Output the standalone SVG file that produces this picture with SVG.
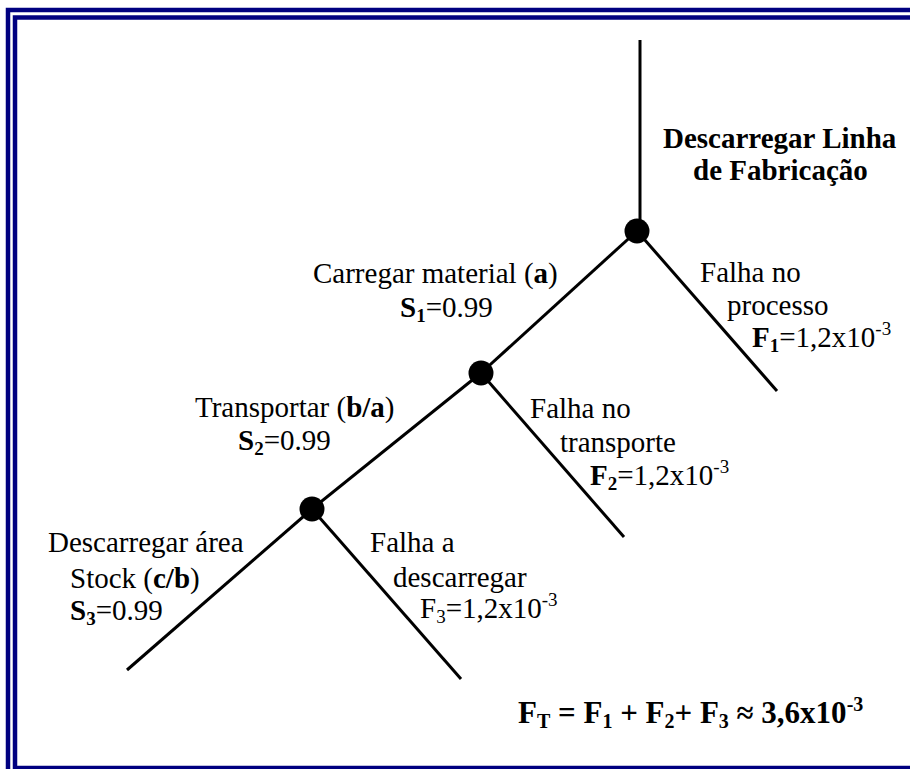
<svg xmlns="http://www.w3.org/2000/svg" width="910" height="769" viewBox="0 0 910 769">
<style>
.frame{fill:none;stroke:#000080;stroke-width:4.5}
.edge{stroke:#000;stroke-width:3;fill:none;stroke-linecap:butt}
.node{fill:#000}
text{font-family:"Liberation Serif","Times New Roman",serif;fill:#000;font-size:29px}
.b{font-weight:bold}
.title{font-weight:bold;font-size:29px}
.sub{font-size:19px}
.fm{font-weight:bold;font-size:31px}
.fs{font-size:20px}
</style>
<rect width="910" height="769" fill="#fff"/>
<g id="frame">
<rect class="frame" x="8" y="10" width="930" height="790"/>
<rect class="frame" x="15" y="17.5" width="920" height="750.5"/>
</g>
<g id="connectors">
<line class="edge" x1="640" y1="40" x2="640" y2="231"/>
<line class="edge" x1="637" y1="231" x2="777" y2="391"/>
<line class="edge" x1="637" y1="231" x2="481" y2="373"/>
<line class="edge" x1="481" y1="373" x2="624" y2="537"/>
<line class="edge" x1="481" y1="373" x2="312" y2="509"/>
<line class="edge" x1="312" y1="509" x2="127" y2="670"/>
<line class="edge" x1="312" y1="509" x2="461" y2="679"/>
</g>
<g id="node-1"><circle class="node" cx="637" cy="231" r="12.5"/></g>
<g id="node-2"><circle class="node" cx="481" cy="373" r="12.5"/></g>
<g id="node-3"><circle class="node" cx="312" cy="509" r="12.5"/></g>
<g id="label-top">
<text class="title" x="663" y="148">Descarregar Linha</text>
<text class="title" x="693" y="180">de Fabricação</text>
</g>
<g id="label-s1">
<text x="313" y="283">Carregar material (<tspan class="b">a</tspan>)</text>
<text x="400" y="317"><tspan class="b">S</tspan><tspan class="b sub" dy="5">1</tspan><tspan dy="-5">=0.99</tspan></text>
</g>
<g id="label-f1">
<text x="700" y="282">Falha no</text>
<text x="727" y="315">processo</text>
<text x="752" y="347"><tspan class="b">F</tspan><tspan class="b sub" dy="5">1</tspan><tspan dy="-5">=1,2x10</tspan><tspan class="sub" dy="-12">-3</tspan></text>
</g>
<g id="label-s2">
<text x="195" y="417">Transportar (<tspan class="b">b/a</tspan>)</text>
<text x="238" y="450"><tspan class="b">S</tspan><tspan class="b sub" dy="5">2</tspan><tspan dy="-5">=0.99</tspan></text>
</g>
<g id="label-f2">
<text x="530" y="418">Falha no</text>
<text x="560" y="452">transporte</text>
<text x="590" y="485"><tspan class="b">F</tspan><tspan class="b sub" dy="5">2</tspan><tspan dy="-5">=1,2x10</tspan><tspan class="sub" dy="-12">-3</tspan></text>
</g>
<g id="label-s3">
<text x="48" y="552">Descarregar área</text>
<text x="70" y="588">Stock (<tspan class="b">c/b</tspan>)</text>
<text x="70" y="620"><tspan class="b">S</tspan><tspan class="b sub" dy="5">3</tspan><tspan dy="-5">=0.99</tspan></text>
</g>
<g id="label-f3">
<text x="370" y="552">Falha a</text>
<text x="393" y="587">descarregar</text>
<text x="420" y="618">F<tspan class="sub" dy="5">3</tspan><tspan dy="-5">=1,2x10</tspan><tspan class="sub" dy="-12">-3</tspan></text>
</g>
<g id="formula">
<text class="fm" x="518" y="723">F<tspan class="fs" dy="5">T</tspan><tspan dy="-5"> = F</tspan><tspan class="fs" dy="5">1</tspan><tspan dy="-5"> + F</tspan><tspan class="fs" dy="5">2</tspan><tspan dy="-5">+ F</tspan><tspan class="fs" dy="5">3</tspan><tspan dy="-5"> ≈ 3,6x10</tspan><tspan class="fs" dy="-12">-3</tspan></text>
</g>
</svg>
